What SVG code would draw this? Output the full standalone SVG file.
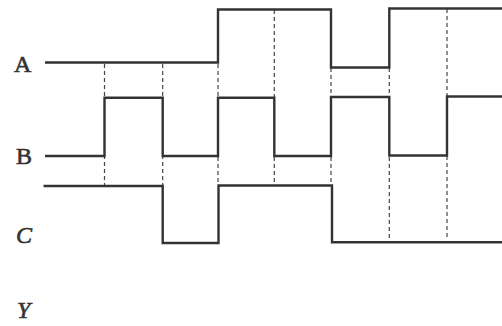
<svg xmlns="http://www.w3.org/2000/svg" width="502" height="326" viewBox="0 0 502 326">
<style>
.w{fill:none;stroke:#333;stroke-width:2.4;stroke-linejoin:miter}
.d{fill:none;stroke:#444;stroke-width:1.2;stroke-dasharray:4 3}
.l{font-family:"Liberation Serif",serif;font-size:24px;fill:#333;stroke:#333;stroke-width:0.6}
.i{font-style:italic}
</style>
<rect width="502" height="326" fill="#fff"/>
<g id="guides">
<path class="d" d="M104.5,64V185 M162.7,64V185 M218,64V97 M218,157V185 M274.3,10V97 M274.3,157V185 M331,68V97 M331,157V186 M389.3,68V97 M389.3,157V242 M447,9V96 M447,156V237"/>
</g>
<g id="connectors">
<path id="wA" class="w" d="M45,62.5H218V9.5H331V67.5H389.3V8.5H502"/>
<path id="wB" class="w" d="M45,156H104.5V97.7H162.7V156H218V97.7H274.3V156H331V97H389.3V155.5H447V96.5H502"/>
<path id="wC" class="w" d="M43.5,186H162.7V243H218.5V185.5H332V242.3H502"/>
</g>
<g id="labelA"><text class="l" x="14" y="72">A</text></g>
<g id="labelB"><text class="l" x="16" y="164">B</text></g>
<g id="labelC"><text class="l i" x="16" y="243">C</text></g>
<g id="labelY"><text class="l i" x="17" y="318">Y</text></g>
</svg>
